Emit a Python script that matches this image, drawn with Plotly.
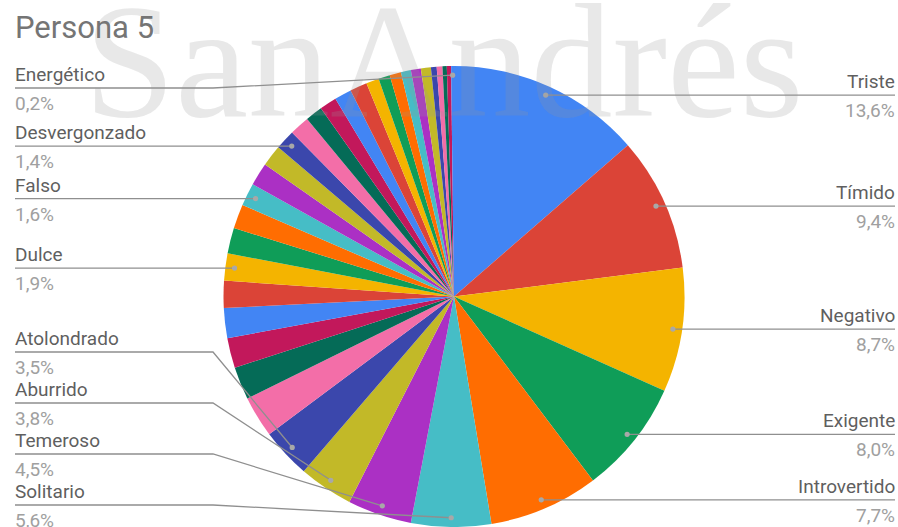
import math
import plotly.graph_objects as go

W, H = 898, 527

# Respuestas: rasgo de personalidad y porcentaje
personalidades = [
    "Triste", "Tímido", "Negativo", "Exigente", "Introvertido", "Solitario",
    "Temeroso", "Aburrido", "Atolondrado", "Alegre", "Tranquilo", "Curioso",
    "Valiente", "Serio", "Dulce", "Amable", "Orgulloso", "Falso", "Nervioso",
    "Celoso", "Desvergonzado", "Optimista", "Rebelde", "Frío", "Terco",
    "Divertido", "Sensible", "Leal", "Impulsivo", "Reservado", "Callado",
    "Ansioso", "Misterioso", "Inseguro", "Torpe", "Honesto", "Energético",
]
porcentajes = [
    13.6, 9.4, 8.7, 8.0, 7.7, 5.6, 4.5, 3.8, 3.5, 2.9, 2.3, 2.1, 2.1, 1.9,
    1.9, 1.8, 1.7, 1.6, 1.6, 1.5, 1.4, 1.4, 1.2, 1.2, 1.2, 1.2, 0.9, 0.8,
    0.8, 0.7, 0.7, 0.7, 0.4, 0.4, 0.3, 0.3, 0.2,
]
# Rasgos con etiqueta visible
etiquetados = [
    "Triste", "Tímido", "Negativo", "Exigente", "Introvertido", "Solitario",
    "Temeroso", "Aburrido", "Atolondrado", "Dulce", "Falso", "Desvergonzado",
    "Energético",
]
paleta = [
    "#4285F4", "#DB4437", "#F4B400", "#0F9D58", "#FF6D01", "#46BDC6",
    "#AB30C4", "#C2B928", "#3B47AC", "#F36EA8", "#056B57", "#C2185B",
]
titulo = "Persona 5"
marca = "SanAndrés"

colores = [paleta[i % len(paleta)] for i in range(len(porcentajes))]

# Geometría del pastel en píxeles
cx, cy, R = 454.0, 296.5, 230.5
r_punto = 0.96 * R


def px(x):
    return x / W


def py(y):
    return 1 - y / H


fig = go.Figure(go.Pie(
    labels=personalidades,
    values=porcentajes,
    sort=False,
    direction="clockwise",
    rotation=0,
    marker=dict(colors=colores, line=dict(width=0)),
    textinfo="none",
    hoverinfo="label+percent",
    domain=dict(x=[px(cx - R), px(cx + R)], y=[py(cy + R), py(cy - R)]),
    showlegend=False,
))

# Posición angular media de cada porción
total = sum(porcentajes)
acum = 0.0
puntos = {}
for nombre, v in zip(personalidades, porcentajes):
    ang = 2 * math.pi * (acum + v / 2) / total
    acum += v
    puntos[nombre] = (cx + r_punto * math.sin(ang), cy - r_punto * math.cos(ang))

izq = [n for n in etiquetados if puntos[n][0] < cx]
der = [n for n in etiquetados if puntos[n][0] >= cx]

# Altura de la línea de cada etiqueta
sep, y_min, y_max = 51, 88, 505
y_linea = {}
for n in der:
    y_linea[n] = min(puntos[n][1], 502)
izq.sort(key=lambda n: puntos[n][1])
sig = y_max + sep
for n in reversed(izq):
    y = min(puntos[n][1], sig - sep)
    y_linea[n] = y
    sig = y
prev = y_min - sep
for n in izq:
    y_linea[n] = max(y_linea[n], prev + sep, y_min)
    prev = y_linea[n]

gris_linea = "#8f8f8f"
shapes = []
annotations = [dict(
    text=marca, x=px(444), y=py(61), xref="paper", yref="paper",
    xanchor="center", yanchor="middle", showarrow=False,
    font=dict(family="Liberation Serif", size=164, color="rgba(150,150,150,0.22)"),
)]

for n in etiquetados:
    dx, dy = puntos[n]
    ly = y_linea[n]
    lado_izq = n in izq
    x_lin = 15 if lado_izq else 895
    x_txt = 13 if lado_izq else 897
    x_codo = 213 if lado_izq else 700
    shapes.append(dict(
        type="path", xref="paper", yref="paper", layer="above",
        path=f"M {px(x_lin)},{py(ly)} L {px(x_codo)},{py(ly)} L {px(dx)},{py(dy)}",
        line=dict(color=gris_linea, width=1.3),
    ))
    shapes.append(dict(
        type="circle", xref="paper", yref="paper", layer="above",
        xsizemode="pixel", ysizemode="pixel",
        xanchor=px(dx), yanchor=py(dy), x0=-2.6, x1=2.6, y0=-2.6, y1=2.6,
        fillcolor="#a8a8a8", line=dict(width=0),
    ))
    v = porcentajes[personalidades.index(n)]
    anc = "left" if lado_izq else "right"
    annotations.append(dict(
        text=n, x=px(x_txt), y=py(ly - 13.5), xref="paper", yref="paper",
        xanchor=anc, yanchor="middle", showarrow=False,
        font=dict(family="Roboto", size=19, color="#5f5f5f"),
    ))
    annotations.append(dict(
        text=f"{v:.1f}".replace(".", ",") + "%", x=px(x_txt), y=py(ly + 15.5),
        xref="paper", yref="paper", xanchor=anc, yanchor="middle",
        showarrow=False, font=dict(family="Roboto", size=19, color="#a0a0a0"),
    ))

annotations.append(dict(
    text=titulo, x=px(13), y=py(28), xref="paper", yref="paper",
    xanchor="left", yanchor="middle", showarrow=False,
    font=dict(family="Roboto", size=31, color="#757575"),
))

fig.update_layout(
    width=W, height=H,
    margin=dict(l=0, r=0, t=0, b=0),
    paper_bgcolor="white", plot_bgcolor="white",
    shapes=shapes, annotations=annotations,
)

fig.write_html("out.html")
